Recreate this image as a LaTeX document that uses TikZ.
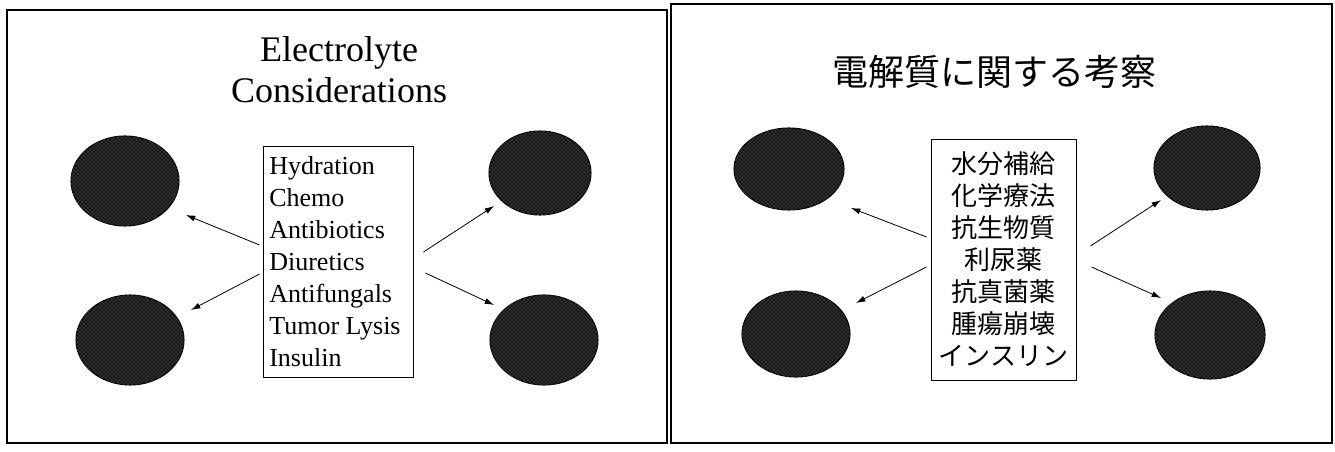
\documentclass[tikz,border=0pt]{standalone}
\usepackage{fontspec}
\setmainfont{Liberation Serif}
\newfontfamily\jpfont{Noto Sans CJK JP}
\usetikzlibrary{arrows.meta,shapes.geometric,patterns}
\begin{document}
\begin{tikzpicture}[x=0.75pt,y=-0.75pt,
  panel/.style={draw=black,line width=1.1pt},
  listbox/.style={draw=black,line width=0.7pt,fill=white,inner xsep=6pt,inner ysep=0pt},
  ion/.style={ellipse,fill=black!92,draw=black,line width=0.8pt,inner sep=0pt,
    postaction={pattern=crosshatch dots,pattern color=black!40}},
  arr/.style={-{Latex[length=7pt,width=4.5pt]},line width=0.6pt},
  entitle/.style={font=\fontsize{27}{30.75}\selectfont,align=center,inner sep=0pt},
  jptitle/.style={font=\jpfont\fontsize{27}{30}\selectfont,inner sep=0pt},
  enlist/.style={font=\fontsize{19.5}{24}\selectfont,align=flush left},
  jplist/.style={font=\jpfont\fontsize{19.5}{24}\selectfont,align=center}]
\useasboundingbox (0,0) rectangle (1335,452);
\fill[white] (0,0) rectangle (1335,452);
% panels
\draw[panel] (7,10) rectangle (667,443);
\draw[panel] (671,4) rectangle (1332,443);
% left panel
\node[entitle,anchor=base] (ltitle) at (339,103) {Electrolyte\\Considerations};
\node[ion,minimum width=81pt,minimum height=67.5pt] (c1) at (125,181) {};
\node[ion,minimum width=76.5pt,minimum height=63pt] (c2) at (540,173) {};
\node[ion,minimum width=81pt,minimum height=67.5pt] (c3) at (130,340) {};
\node[ion,minimum width=81pt,minimum height=67.5pt] (c4) at (544,340) {};
\node[listbox,enlist,text width=103pt,inner xsep=4.75pt,minimum height=173.25pt] (lbox) at (338,261.5)
  {Hydration\\Chemo\\Antibiotics\\Diuretics\\Antifungals\\Tumor Lysis\\Insulin};
\draw[arr] ([shift={(-3,-16.5)}]lbox.west) -- ([shift={(61,34)}]c1.center);
\draw[arr] ([shift={(-3,12.5)}]lbox.west) -- ([shift={(61,-30)}]c3.center);
\draw[arr] ([shift={(10,-9.5)}]lbox.east) -- ([shift={(-46,33)}]c2.center);
\draw[arr] ([shift={(12,11.5)}]lbox.east) -- ([shift={(-50,-35)}]c4.center);
% right panel
\node[jptitle] (rtitle) at (994,72) {電解質に関する考察};
\node[ion,minimum width=82.5pt,minimum height=61.5pt] (d1) at (789,169) {};
\node[ion,minimum width=79.5pt,minimum height=63pt] (d2) at (1207,168) {};
\node[ion,minimum width=81pt,minimum height=64.5pt] (d3) at (796,334) {};
\node[ion,minimum width=82.5pt,minimum height=66pt] (d4) at (1210,335) {};
\node[listbox,jplist,text width=100pt,inner xsep=4.4pt,minimum height=180.75pt] (rbox) at (1003.5,259.5)
  {水分補給\\化学療法\\抗生物質\\利尿薬\\抗真菌薬\\腫瘍崩壊\\インスリン};
\draw[arr] ([shift={(-4,-22.5)}]rbox.west) -- ([shift={(62,39)}]d1.center);
\draw[arr] ([shift={(-4,7.5)}]rbox.west) -- ([shift={(60,-31)}]d3.center);
\draw[arr] ([shift={(14,-13.5)}]rbox.east) -- ([shift={(-46,32)}]d2.center);
\draw[arr] ([shift={(15,7.5)}]rbox.east) -- ([shift={(-49,-37)}]d4.center);
\end{tikzpicture}
\end{document}
